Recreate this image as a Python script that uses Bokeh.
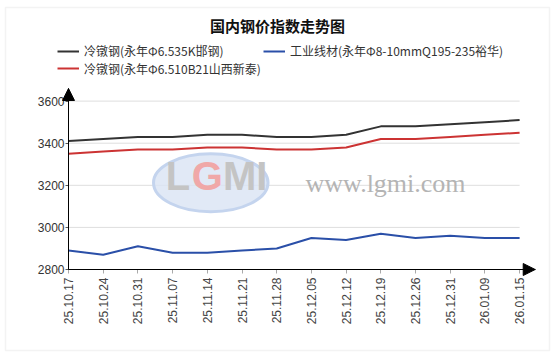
import math
from bokeh.plotting import figure
from bokeh.models import (FixedTicker, Label, Legend, LegendItem, Arrow, NormalHead,
                          BoxAnnotation, Range1d)
from bokeh.embed import file_html
from bokeh.resources import INLINE

# ---- data ----
dates = ["25.10.17", "25.10.24", "25.10.31", "25.11.07", "25.11.14", "25.11.21", "25.11.28",
         "25.12.05", "25.12.12", "25.12.19", "25.12.26", "25.12.31", "26.01.09", "26.01.15"]
handan = [3410, 3420, 3430, 3430, 3440, 3440, 3430, 3430, 3440, 3480, 3480, 3490, 3500, 3510]
shanxi = [3350, 3360, 3370, 3370, 3380, 3380, 3370, 3370, 3380, 3420, 3420, 3430, 3440, 3450]
yuhua = [2890, 2870, 2910, 2880, 2880, 2890, 2900, 2950, 2940, 2970, 2950, 2960, 2950, 2950]
y_ticks = [2800, 3000, 3200, 3400, 3600]

title_text = "国内钢价指数走势图"
names = ["冷镦钢(永年Φ6.535K邯钢)", "冷镦钢(永年Φ6.510B21山西新泰)", "工业线材(永年Φ8-10mmQ195-235裕华)"]
colors = ["#333333", "#cc3333", "#2a4fa8"]

CJK = "Noto Sans CJK SC"
LAT = "Liberation Sans"

x = list(range(len(dates)))

# ---- layout geometry (pixels) ----
W, H = 554, 358
AX_X, AX_Y = 68, 269          # axis origin in pixels (from top-left)
PX_PER_X = 34.7               # pixels per category step
PX_PER_Y = 42.1 / 200         # pixels per value unit
x_lo = -AX_X / PX_PER_X
x_hi = (W - AX_X) / PX_PER_X
y_lo = y_ticks[0] - (H - AX_Y) / PX_PER_Y
y_hi = y_ticks[0] + AX_Y / PX_PER_Y
X_END = 13.45
Y_END = 3660

p = figure(width=W, height=H, output_backend="svg", toolbar_location=None,
           x_range=Range1d(x_lo, x_hi), y_range=Range1d(y_lo, y_hi),
           min_border=0, min_border_left=0, min_border_right=0, min_border_top=0, min_border_bottom=0,
           background_fill_color="white", border_fill_color="white")
p.outline_line_color = None
p.grid.visible = False

# grid lines (stop at last category)
p.segment(x0=[x[0]] * len(y_ticks[1:]), x1=[x[-1]] * len(y_ticks[1:]), y0=y_ticks[1:], y1=y_ticks[1:],
          line_color="#dedede", line_width=1, level="underlay")

# watermark
p.ellipse(x=[4.1], y=[3212], width=[3.3], height=[275], fill_color="#d9e4f4", fill_alpha=0.8,
          line_color="#c4d4ee", line_width=3, level="underlay")
for txt, xx, col in [("L", 2.8, "#c4c4c4"), ("G", 3.55, "#f0a8a8"), ("MI", 4.45, "#c4c4c4")]:
    p.add_layout(Label(x=xx, y=3140, text=txt, text_font=LAT, text_font_size="40px",
                       text_font_style="bold", text_color=col, level="underlay"))
p.add_layout(Label(x=6.83, y=3142, text="www.lgmi.com", text_font="Liberation Serif",
                   text_font_size="26px", text_color="#b4b4b4", level="underlay"))

# series
r1 = p.line(x, handan, line_color=colors[0], line_width=2)
r2 = p.line(x, shanxi, line_color=colors[1], line_width=2)
r3 = p.line(x, yuhua, line_color=colors[2], line_width=2)

# axes (fixed inside the full-canvas frame)
p.xaxis.fixed_location = y_ticks[0]
p.xaxis.bounds = (0, X_END)
p.xaxis.ticker = FixedTicker(ticks=x)
p.xaxis.major_label_overrides = {i: d for i, d in enumerate(dates)}
p.xaxis.major_label_orientation = math.pi / 2
p.xaxis.major_label_text_font = LAT
p.xaxis.major_label_text_font_size = "12px"
p.xaxis.major_label_text_color = "#444444"
p.xaxis.major_tick_in = 0
p.xaxis.major_tick_out = 4
p.xaxis.major_tick_line_color = "#aaaaaa"
p.xaxis.minor_tick_line_color = None
p.xaxis.major_label_standoff = 4
p.xaxis.axis_line_color = "#000000"

p.yaxis.fixed_location = 0
p.yaxis.bounds = (y_ticks[0], Y_END)
p.yaxis.ticker = FixedTicker(ticks=y_ticks)
p.yaxis.major_label_text_font = LAT
p.yaxis.major_label_text_font_size = "12px"
p.yaxis.major_label_text_color = "#333333"
p.yaxis.major_tick_in = 0
p.yaxis.major_tick_out = 3
p.yaxis.major_tick_line_color = "#555555"
p.yaxis.minor_tick_line_color = None
p.yaxis.major_label_standoff = 1
p.yaxis.axis_line_color = "#000000"

# axis arrows
p.add_layout(Arrow(x_start=0, y_start=y_ticks[0], x_end=0, y_end=Y_END, line_color="black", line_width=1,
                   end=NormalHead(size=12, fill_color="black", line_color="black")))
p.add_layout(Arrow(x_start=0, y_start=y_ticks[0], x_end=X_END, y_end=y_ticks[0], line_color="black",
                   line_width=1, end=NormalHead(size=12, fill_color="black", line_color="black")))

# title (screen units, from bottom-left of canvas-sized frame)
p.add_layout(Label(x=277, y=H - 25, x_units="screen", y_units="screen", text=title_text,
                   text_align="center", text_baseline="middle", text_font=CJK,
                   text_font_size="15px", text_font_style="bold", text_color="#111111"))

# legends (one per item; location = bottom-left corner in screen units)
def make_legend(item, loc):
    return Legend(items=[item], location=loc, orientation="vertical", padding=0, margin=0,
                  spacing=0, glyph_width=22, glyph_height=14, label_height=14, label_standoff=5,
                  label_text_font=CJK, label_text_font_size="12px", label_text_color="#333333",
                  border_line_color=None, background_fill_alpha=0)

ROW_H = 18
ROW1, ROW2 = 50, 67.5
p.add_layout(make_legend(LegendItem(label=names[0], renderers=[r1]), (57, H - (ROW1 + ROW_H / 2))), "center")
p.add_layout(make_legend(LegendItem(label=names[1], renderers=[r2]), (57, H - (ROW2 + ROW_H / 2))), "center")
p.add_layout(make_legend(LegendItem(label=names[2], renderers=[r3]), (263, H - (ROW1 + ROW_H / 2))), "center")

# outer border
p.add_layout(BoxAnnotation(left=5, right=549, bottom=H - 350, top=H - 7,
                           left_units="screen", right_units="screen",
                           bottom_units="screen", top_units="screen",
                           fill_alpha=0, line_color="#d6d6d6", line_width=1.5))

open("out.html", "w").write(file_html(p, INLINE))
